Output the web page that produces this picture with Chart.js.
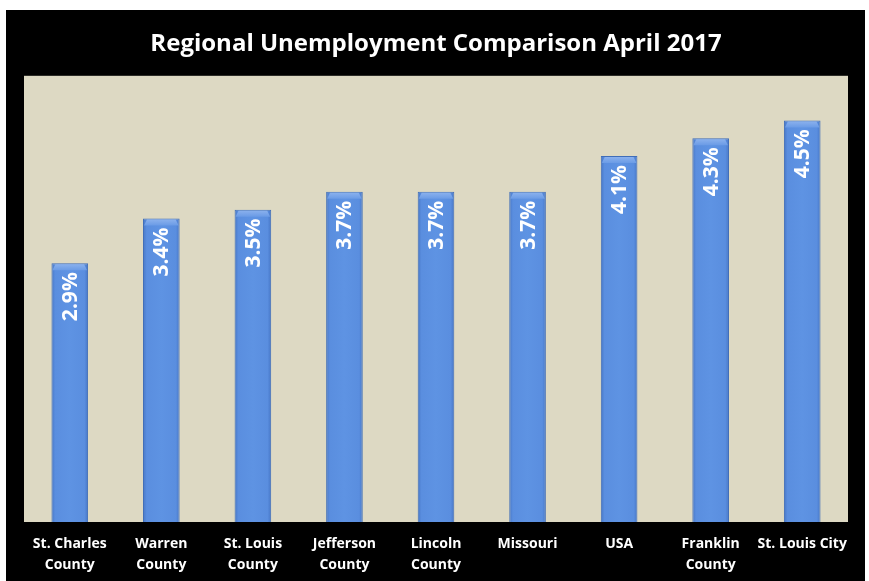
<!DOCTYPE html>
<html>
<head>
<meta charset="utf-8">
<script src="https://cdn.jsdelivr.net/npm/chart.js@4.4.0/dist/chart.umd.min.js"></script>
<style>
	html, body { margin: 0; padding: 0; background: #fff; }
	#wrap { width: 869px; height: 581px; }
</style>
</head>
<body>
<div id="wrap"><canvas id="chart" width="869" height="581"></canvas></div>
<script>
var regions = [
	['St. Charles', 'County'],
	['Warren', 'County'],
	['St. Louis', 'County'],
	['Jefferson', 'County'],
	['Lincoln', 'County'],
	'Missouri',
	'USA',
	['Franklin', 'County'],
	'St. Louis City'
];
var rates = [2.9, 3.4, 3.5, 3.7, 3.7, 3.7, 4.1, 4.3, 4.5];

// 배경: 흰 여백 + 검은 판 + 베이지 플롯 영역
var backdrop = {
	id: 'backdrop',
	beforeDraw: function(chart) {
		var ctx = chart.ctx;
		var a = chart.chartArea;
		ctx.save();
		ctx.fillStyle = '#ffffff';
		ctx.fillRect(0, 0, chart.width, chart.height);
		ctx.fillStyle = '#000000';
		ctx.fillRect(6, 10, chart.width - 10, chart.height - 10);
		ctx.fillStyle = '#ddd9c3';
		ctx.fillRect(a.left, a.top, a.right - a.left, a.bottom - a.top);
		ctx.restore();
	}
};

// 막대 윗부분 베벨 + 세로 라벨
var barExtras = {
	id: 'barExtras',
	afterDatasetsDraw: function(chart) {
		var ctx = chart.ctx;
		var meta = chart.getDatasetMeta(0);
		ctx.save();
		meta.data.forEach(function(bar, i) {
			var w = bar.width;
			var l = bar.x - w / 2, r = bar.x + w / 2, t = bar.y;
			// 윗면 베벨
			var g = ctx.createLinearGradient(0, t, 0, t + 7);
			g.addColorStop(0, '#8fb4ee');
			g.addColorStop(1, '#6a9be6');
			ctx.fillStyle = g;
			ctx.beginPath();
			ctx.moveTo(l + 1, t + 7);
			ctx.lineTo(l + 4, t + 1);
			ctx.lineTo(r - 4, t + 1);
			ctx.lineTo(r - 1, t + 7);
			ctx.closePath();
			ctx.fill();
			// 값 라벨
			ctx.save();
			ctx.translate(bar.x, t + 9);
			ctx.rotate(-Math.PI / 2);
			ctx.fillStyle = '#ffffff';
			ctx.font = 'bold 21px "Open Sans"';
			ctx.textAlign = 'right';
			ctx.textBaseline = 'middle';
			ctx.fillText(rates[i].toFixed(1) + '%', 0, 1);
			ctx.restore();
		});
		ctx.restore();
	}
};

var ctx = document.getElementById('chart').getContext('2d');
var chart = new Chart(ctx, {
	type: 'bar',
	data: {
		labels: regions,
		datasets: [{
			label: 'Unemployment rate',
			data: rates,
			backgroundColor: function(c) {
				var ch = c.chart;
				var meta = ch.getDatasetMeta(0);
				var bar = meta.data[c.dataIndex];
				if (!bar || !bar.width) return '#5b8fdf';
				var g = ch.ctx.createLinearGradient(bar.x - bar.width / 2, 0, bar.x + bar.width / 2, 0);
				g.addColorStop(0, '#4676c6');
				g.addColorStop(0.1, '#5a8edf');
				g.addColorStop(0.5, '#5e93e3');
				g.addColorStop(0.9, '#5a8edf');
				g.addColorStop(1, '#4676c6');
				return g;
			},
			borderColor: '#3f6db8',
			borderWidth: 1,
			barPercentage: 0.4,
			categoryPercentage: 1
		}]
	},
	plugins: [backdrop, barExtras],
	options: {
		responsive: false,
		animation: false,
		layout: {
			padding: { top: 24, left: 24, right: 21, bottom: 4 }
		},
		scales: {
			x: {
				grid: { display: false, drawTicks: false },
				border: { display: false },
				afterFit: function(scale) {
					scale.height = 55;
				},
				ticks: {
					color: '#ffffff',
					padding: 12,
					maxRotation: 0,
					autoSkip: false,
					font: { family: 'Open Sans', weight: 'bold', size: 14, lineHeight: 1.5 }
				}
			},
			y: {
				display: false,
				beginAtZero: true,
				min: 0,
				max: 5
			}
		},
		plugins: {
			legend: { display: false },
			tooltip: { enabled: false },
			title: {
				display: true,
				text: 'Regional Unemployment Comparison April 2017',
				color: '#ffffff',
				padding: { top: 6, bottom: 17 },
				font: { family: 'Open Sans', weight: 'bold', size: 24, lineHeight: 1.2 }
			}
		}
	}
});
chart.update();
</script>
</body>
</html>
